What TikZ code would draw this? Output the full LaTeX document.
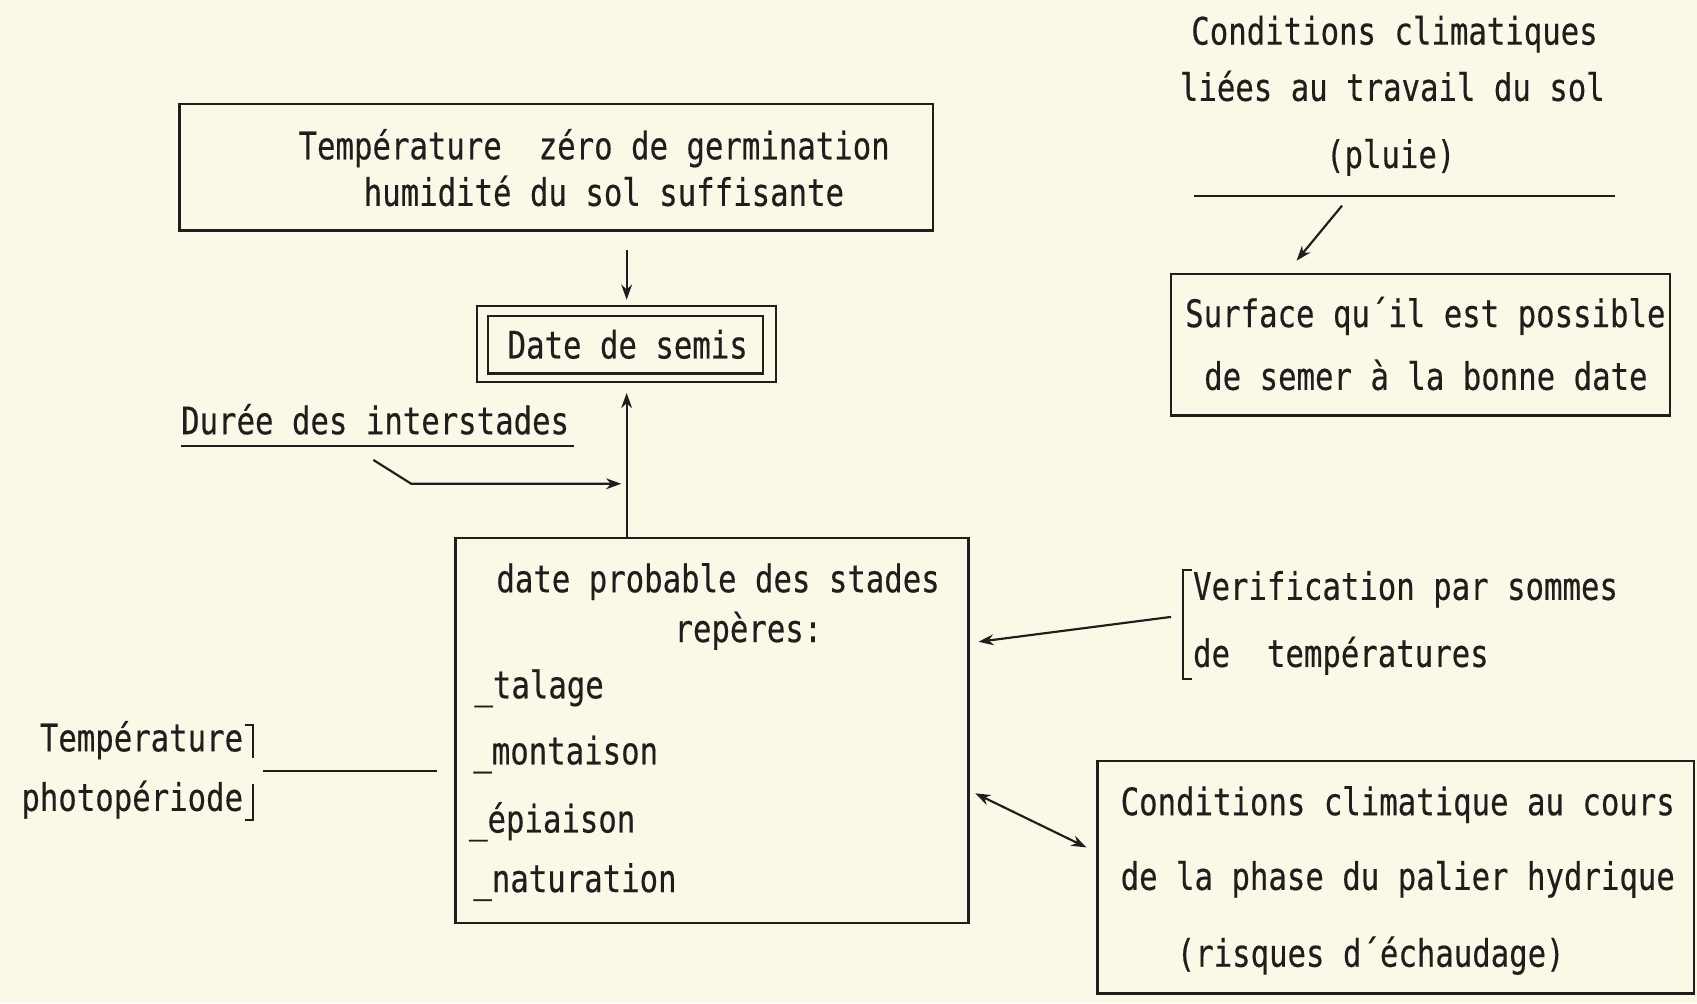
\documentclass[tikz,border=0pt]{standalone}
\usepackage{fontspec}
\setmainfont{DejaVu Sans Mono}[FakeStretch=0.81,FakeBold=0.4]
\usetikzlibrary{arrows.meta,calc}
\definecolor{paper}{RGB}{251,248,232}
\definecolor{ink}{RGB}{32,30,28}
\begin{document}
\begin{tikzpicture}[x=0.5pt,y=-0.5pt,
  txt/.style={font=\fontsize{17.5}{21}\selectfont, inner sep=0pt, text height=12.8pt, text depth=3.6pt, text=ink},
  frame/.style={draw=ink, inner sep=0pt, line width=1.1pt},
  conn/.style={draw=ink, line width=1pt},
  arr/.style={conn, -{Stealth[length=7pt,width=5pt]}},
  darr/.style={conn, {Stealth[length=7pt,width=5pt]}-{Stealth[length=7pt,width=5pt]}}]
\fill[paper] (0,0) rectangle (1568,927);
\useasboundingbox (0,0) rectangle (1568,927);

% top box
\node[frame, minimum width=348pt, minimum height=58.5pt] (topbox) at (514,154.5) {};
\node[txt] (t1) at (549,138) {Température\ \ zéro de germination};
\node[txt] (t2) at (558,181) {humidité du sol suffisante};

% date de semis (double frame)
\node[frame, minimum width=138pt, minimum height=35pt] (datebox) at (579,318) {};
\node[frame, minimum width=127pt, minimum height=26.5pt] (dateinner) at (578,318.5) {};
\node[txt] (dtxt) at (580,322) {Date de semis};

% duree des interstades
\node[txt, anchor=west] (duree) at (167,392) {Durée des interstades};
\draw[conn] (167,412) -- (530,412);

% stades box
\node[frame, minimum width=237pt, minimum height=178pt] (stades) at (658,675) {};
\node[txt] (s1) at (663.5,538) {date probable des stades};
\node[txt] (s2) at (691.5,584) {repères:};
\node[txt, anchor=west] (s3) at (438,636) {\_talage};
\node[txt, anchor=west] (s4) at (437,697) {\_montaison};
\node[txt, anchor=west] (s5) at (433,760) {\_épiaison};
\node[txt, anchor=west] (s6) at (437,815) {\_naturation};

% left: temperature / photoperiode
\node[txt, anchor=east] (lt1) at (225,685) {Température};
\node[txt, anchor=east] (lt2) at (225,740) {photopériode};
\draw[conn] (226,670) -- (234,670) -- (234,700);
\draw[conn] (234,724) -- (234,758) -- (226,758);
\coordinate (tbr) at (243,712);

% top right
\node[txt] (c1) at (1288.5,32) {Conditions climatiques};
\node[txt] (c2) at (1286.5,84) {liées au travail du sol};
\node[txt] (c3) at (1285,146) {(pluie)};
\draw[conn] (1103,181) -- (1492,181);
\coordinate (pl) at (1240,190);

\node[frame, minimum width=230.5pt, minimum height=65.5pt] (surface) at (1312.5,318.5) {};
\node[txt] (f1) at (1317,293) {Surface qu´il est possible};
\node[txt] (f2) at (1317.5,351) {de semer à la bonne date};

% verification
\node[txt, anchor=west] (v1) at (1102,545) {Verification par sommes};
\node[txt, anchor=west] (v2) at (1102,607) {de\ \ températures};
\draw[conn] (1101,527) -- (1093,527) -- (1093,627) -- (1101,627);
\coordinate (vb) at (1082,570);

% bottom right box
\node[frame, minimum width=275.5pt, minimum height=107.5pt] (cond) at (1289.5,810.5) {};
\node[txt] (b1) at (1291.5,744) {Conditions climatique au cours};
\node[txt] (b2) at (1291.5,813) {de la phase du palier hydrique};
\node[txt] (b3) at (1266.5,884) {(risques d´échaudage)};

% connectors
\draw[arr, shorten <=8.5pt, shorten >=2.5pt] (datebox.north |- topbox.south) -- (datebox.north);
\draw[arr, shorten >=4.5pt] (stades.north -| datebox.south) -- (datebox.south);
\coordinate (ds) at (345,425);
\coordinate (dj) at (574,447);
\draw[arr] (ds) -- (380,447) -- (dj);
\draw[conn, shorten >=8pt] (tbr) -- (stades.west |- tbr);
\draw[arr] (vb) -- ([xshift=4pt,yshift=41pt]stades.east);
\draw[darr] ([xshift=2.5pt,yshift=-29pt]stades.east) -- ([xshift=-4.5pt,yshift=13.75pt]cond.west);
\draw[arr] (pl) -- ([xshift=-57.25pt,yshift=5.5pt]surface.north);
\end{tikzpicture}
\end{document}
